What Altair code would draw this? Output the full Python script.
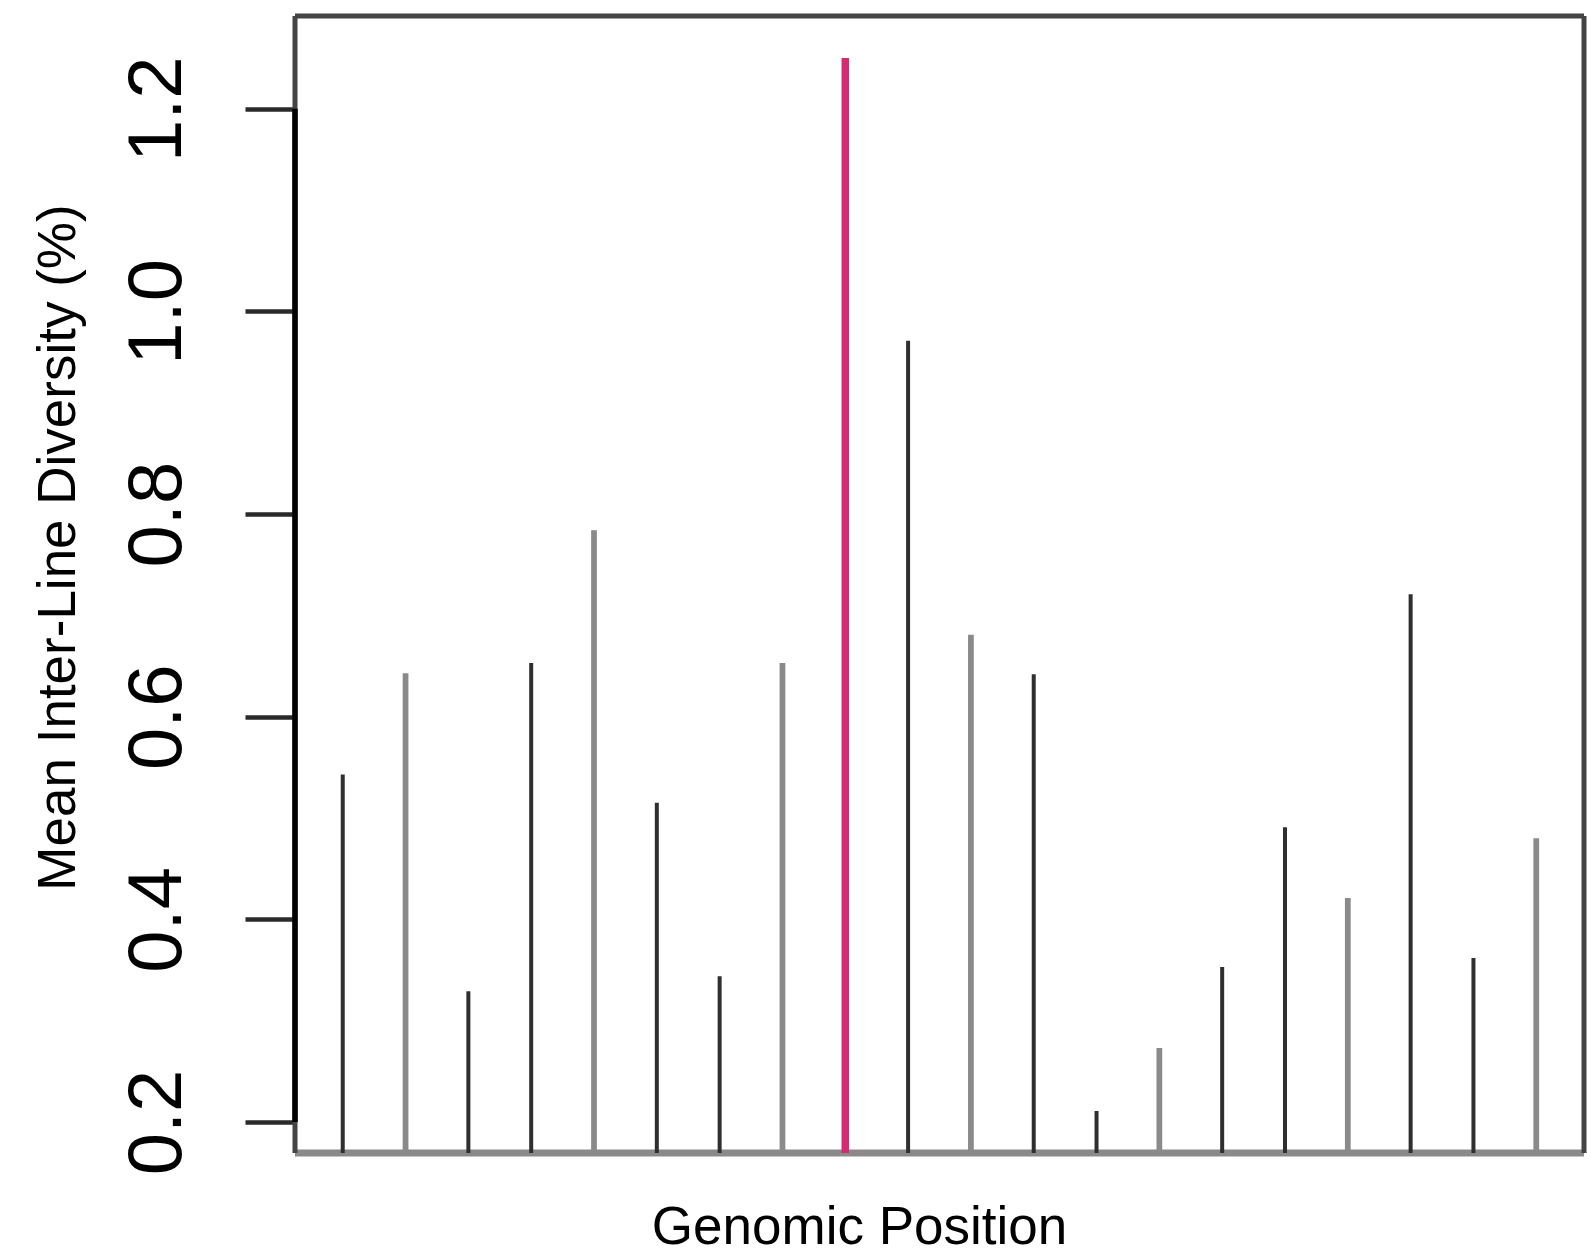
import altair as alt
import pandas as pd

# ---- data ----
positions = [1, 2, 3, 4, 5, 6, 7, 8, 9, 10, 11, 12, 13, 14, 15, 16, 17, 18, 19, 20]
diversity = [0.543, 0.643, 0.329, 0.653, 0.784, 0.515, 0.344, 0.653, 1.250, 0.971,
             0.681, 0.642, 0.211, 0.273, 0.353, 0.491, 0.421, 0.721, 0.362, 0.480]
groups = ["dark", "light", "dark", "dark", "light", "dark", "dark", "light", "highlight", "dark",
          "light", "dark", "dark", "light", "dark", "dark", "light", "dark", "dark", "light"]
y_ticks = [0.2, 0.4, 0.6, 0.8, 1.0, 1.2]

group_names = ["dark", "light", "highlight"]
group_colors = ["#2f2f2f", "#8a8a8a", "#d62b70"]
group_widths = [4, 7.5, 4.5]

df = pd.DataFrame({"pos": positions, "div": diversity, "grp": groups})
one = pd.DataFrame({"k": [0]})

# R-style 4% axis expansion
ymin, ymax = min(diversity), max(diversity)
ypad = 0.04 * (ymax - ymin)
xmin, xmax = min(positions), max(positions)
xpad = 0.04 * (xmax - xmin)
y_scale = alt.Scale(domain=[ymin - ypad, ymax + ypad], nice=False, zero=False)
x_scale = alt.Scale(domain=[xmin - xpad, xmax + xpad], nice=False, zero=False)

FONT = "Liberation Sans"
W, H = 1289, 1137

x_axis = alt.Axis(title="Genomic Position", domain=False, ticks=False, labels=False, grid=False,
                  titleX=564, titleY=90, titleAlign="center", titleBaseline="alphabetic",
                  titleFontSize=53, titleFont=FONT, titleFontWeight="normal", titleColor="#000")
y_axis = alt.Axis(title="Mean Inter-Line Diversity (%)", values=y_ticks, format=".1f",
                  domain=False, grid=False, ticks=True, tickSize=50, tickWidth=4.5, tickColor="#2a2a2a",
                  labelAngle=270, labelAlign="center", labelBaseline="alphabetic",
                  labelPadding=65, labelFontSize=76, labelFont=FONT, labelColor="#000",
                  labelFlush=False, labelOverlap=False,
                  titleAngle=270, titleX=-221, titleY=531, titleAlign="center",
                  titleBaseline="alphabetic", titleFontSize=53, titleFont=FONT,
                  titleFontWeight="normal", titleColor="#000")

frame_bottom = alt.Chart(one).mark_rule(color="#8a8a8a", strokeWidth=7).encode(
    x=alt.value(0), x2=alt.value("width"), y=alt.value("height"))
frame_top = alt.Chart(one).mark_rule(color="#444", strokeWidth=5).encode(
    x=alt.value(0), x2=alt.value("width"), y=alt.value(0))
frame_right = alt.Chart(one).mark_rule(color="#444", strokeWidth=5).encode(
    x=alt.value("width"), y=alt.value(0), y2=alt.value("height"))
frame_left = alt.Chart(one).mark_rule(color="#444", strokeWidth=5).encode(
    x=alt.value(0), y=alt.value(0), y2=alt.value("height"))

lines = alt.Chart(df).mark_rule(clip=True).encode(
    x=alt.X("pos:Q", scale=x_scale, axis=x_axis),
    y=alt.Y("div:Q", scale=y_scale, axis=y_axis),
    y2=alt.datum(0),
    color=alt.Color("grp:N", scale=alt.Scale(domain=group_names, range=group_colors), legend=None),
    strokeWidth=alt.StrokeWidth("grp:N", scale=alt.Scale(domain=group_names, range=group_widths),
                                legend=None),
)

axis_line = alt.Chart(one).mark_rule(color="#000", strokeWidth=5.5).encode(
    x=alt.value(0), y=alt.datum(y_ticks[0]), y2=alt.datum(y_ticks[-1]))

chart = alt.layer(frame_bottom, frame_top, frame_right, frame_left, lines, axis_line).properties(
    width=W, height=H,
    padding={"left": 295, "top": 16, "right": 3, "bottom": 100},
    autosize=alt.AutoSizeParams(type="none"),
    background="white",
).configure_view(stroke=None)

chart.save("out.html", embed_options={"renderer": "svg", "actions": False})
